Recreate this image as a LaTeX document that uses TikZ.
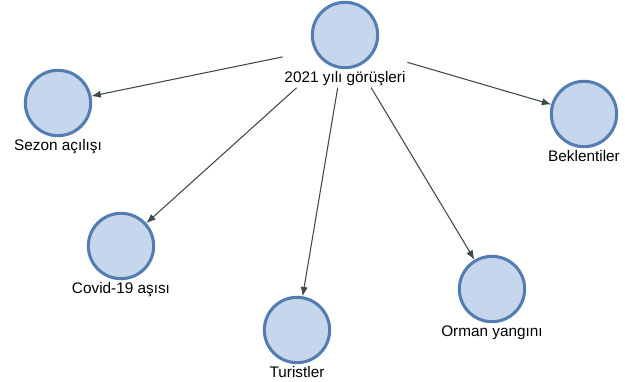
\documentclass[tikz,border=0pt]{standalone}
\usepackage{fontspec}
\setmainfont{Liberation Sans}
\usetikzlibrary{positioning,fit,arrows.meta}
\definecolor{ringblue}{RGB}{84,126,178}
\definecolor{fillblue}{RGB}{198,214,236}
\definecolor{linkgray}{RGB}{62,74,74}

\begin{document}
\begin{tikzpicture}[x=0.75pt,y=0.75pt,yscale=-1,xscale=1,
  vertex/.style={circle, draw=ringblue, fill=fillblue, line width=2.3pt, minimum size=49pt, inner sep=0pt},
  lbl/.style={font=\fontsize{11.5}{13}\selectfont, inner sep=1pt},
  link/.style={draw=linkgray, line width=0.8pt, -{Latex[length=7pt,width=5.5pt]}}]
%set diagram size 625 x 382
\useasboundingbox (0,0) rectangle (625,382);

%Shape: Circle
\node [vertex] (root) at (345,35) {};
\node [vertex] (sezon) at (58,103) {};
\node [vertex] (covid) at (121,246) {};
\node [vertex] (turist) at (297,330) {};
\node [vertex] (orman) at (492,289) {};
\node [vertex] (bekl) at (584,114) {};

% Text Node
\node [lbl, below=0.5pt of root] (rootlbl) {2021 yılı görüşleri};
\node [lbl, below=0.5pt of sezon] (sezonlbl) {Sezon açılışı};
\node [lbl, below=0.5pt of covid] (covidlbl) {Covid-19 aşısı};
\node [lbl, below=0.5pt of turist] (turistlbl) {Turistler};
\node [lbl, below=0.5pt of orman] (ormanlbl) {Orman yangını};
\node [lbl, below=0.5pt of bekl] (bekllbl) {Beklentiler};

%Shape: Box round root and its label
\node [fit=(root)(rootlbl), inner sep=0pt] (rootall) {};

%Straight Lines
\draw [link] (rootall) -- (sezon);
\draw [link] (rootall) -- (covid);
\draw [link] (rootall) -- (turist);
\draw [link] (rootall) -- (orman);
\draw [link] (rootall) -- (bekl);

\end{tikzpicture}
\end{document}
